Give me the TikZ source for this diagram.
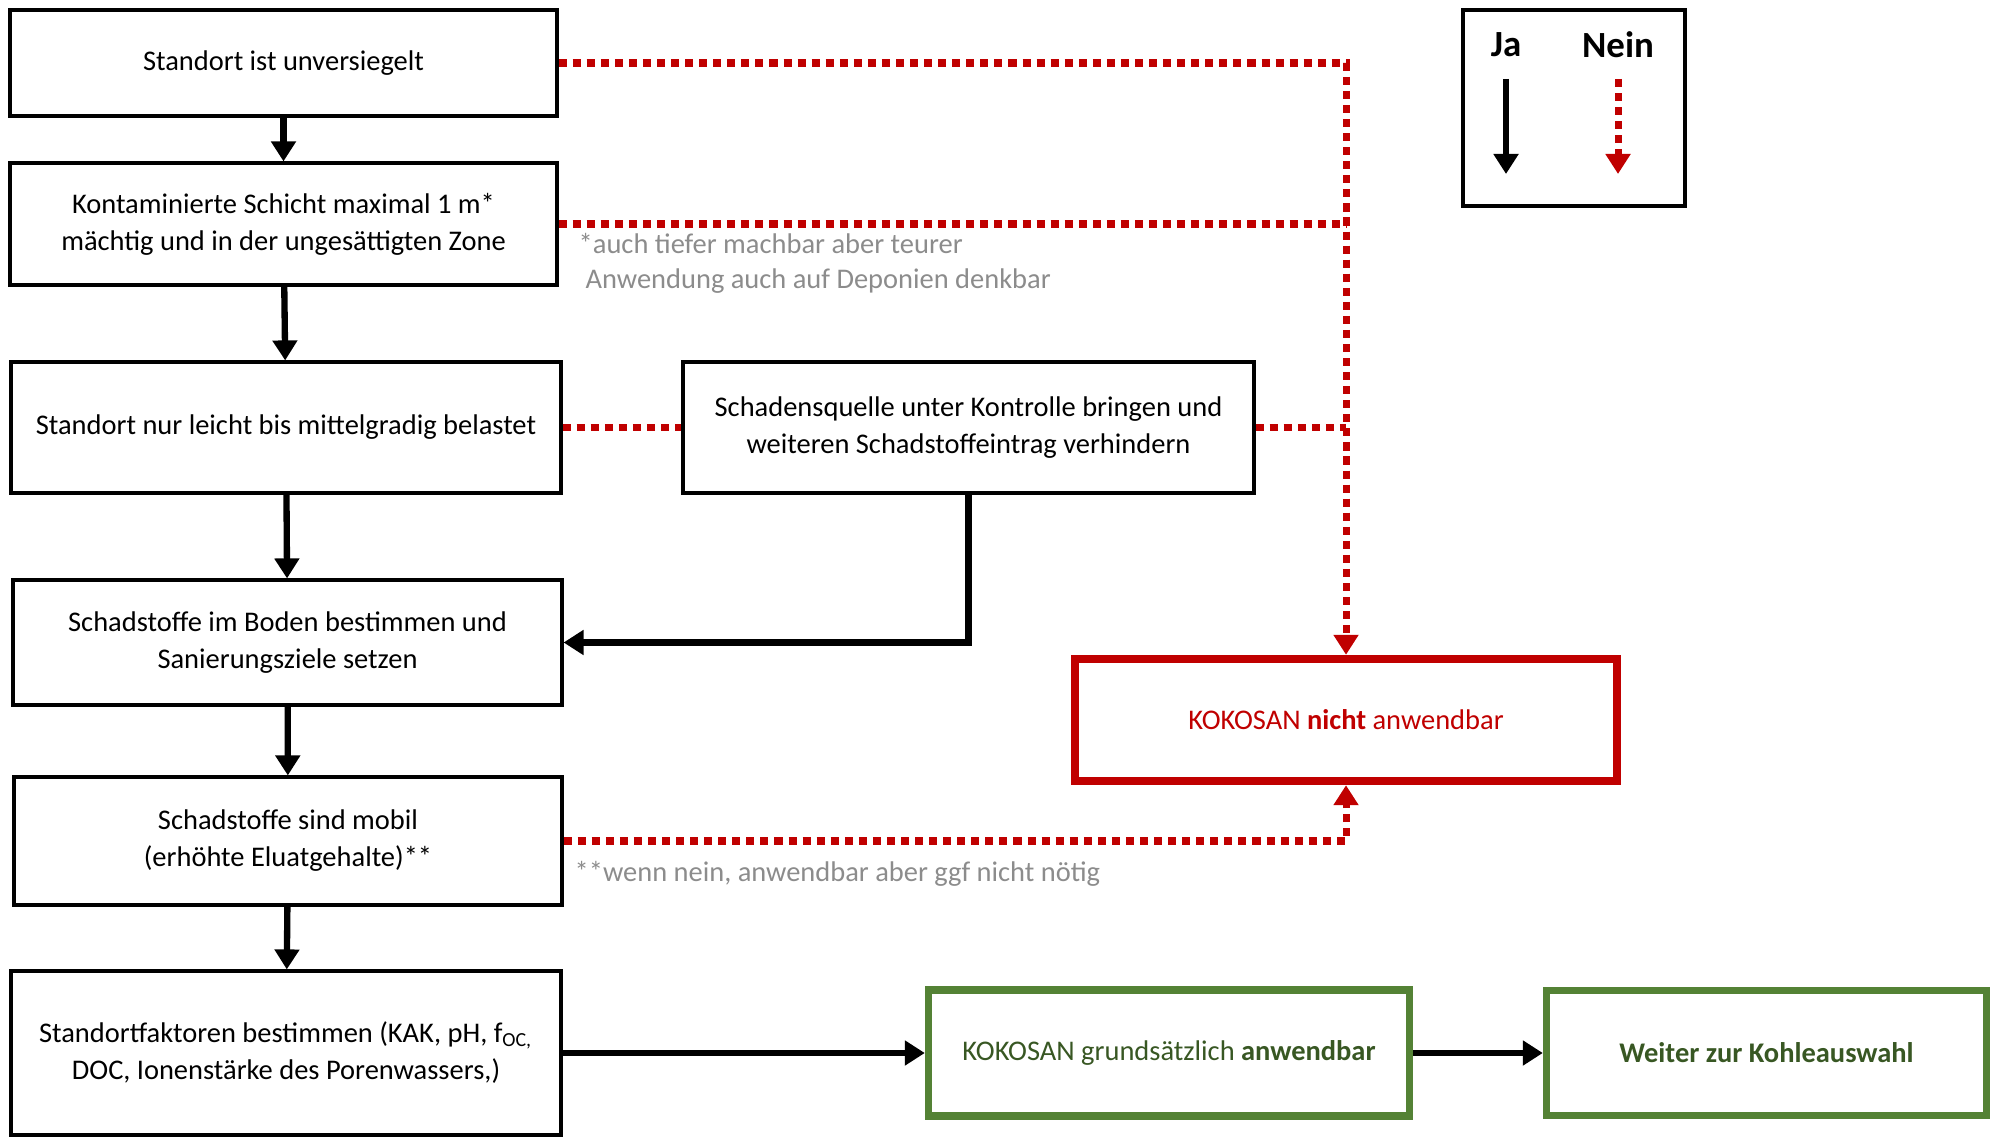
\documentclass[tikz,border=0pt]{standalone}
\usepackage{fontspec}
\setmainfont{Carlito}
\usetikzlibrary{arrows.meta}

\definecolor{neinred}{RGB}{192,0,0}
\definecolor{jagreen}{RGB}{84,130,53}
\definecolor{jatext}{RGB}{56,87,35}
\definecolor{notegray}{RGB}{140,140,140}

\begin{document}
\begin{tikzpicture}[
  font=\fontsize{8.1}{10.5}\selectfont,
  box/.style={draw, line width=0.9pt, align=center, inner sep=0pt},
  nobox/.style={draw=neinred, line width=2.4pt, text=neinred, align=center, inner sep=0pt},
  okbox/.style={draw=jagreen, line width=2.1pt, text=jatext, align=center, inner sep=0pt},
  yes/.style={line width=1.8pt, -{Triangle[width=0.24cm,length=0.2cm]}},
  noline/.style={neinred, line width=2pt, dash pattern=on 2.3pt off 1.7pt},
  no/.style={noline, -{Triangle[width=0.24cm,length=0.2cm]}},
  note/.style={text=notegray, anchor=west, inner sep=0pt}
]

  \useasboundingbox (0,0) rectangle (19.93,11.37);

  % --- Left column ---
  \node[box, minimum width=5.47cm, minimum height=1.06cm] (unversiegelt) at (2.835,10.74) {Standort ist unversiegelt};
  \node[box, minimum width=5.47cm, minimum height=1.22cm] (schicht) at (2.835,9.13) {Kontaminierte Schicht maximal 1 m*\\mächtig und in der ungesättigten Zone};
  \node[box, minimum width=5.50cm, minimum height=1.31cm] (belastet) at (2.86,7.095) {Standort nur leicht bis mittelgradig belastet};
  \node[box, minimum width=5.49cm, minimum height=1.25cm] (boden) at (2.875,4.945) {Schadstoffe im Boden bestimmen und\\Sanierungsziele setzen};
  \node[box, minimum width=5.48cm, minimum height=1.28cm] (mobil) at (2.88,2.96) {Schadstoffe sind mobil\\(erhöhte Eluatgehalte)**};
  \node[box, minimum width=5.50cm, minimum height=1.64cm] (faktoren) at (2.86,0.84) {Standortfaktoren bestimmen (KAK, pH, f\textsubscript{OC,}\\DOC, Ionenstärke des Porenwassers,)};

  % --- Middle and right ---
  \node[box, minimum width=5.71cm, minimum height=1.31cm] (quelle) at (9.685,7.095) {Schadensquelle unter Kontrolle bringen und\\weiteren Schadstoffeintrag verhindern};
  \node[nobox, minimum width=5.42cm, minimum height=1.22cm] (nicht) at (13.46,4.17) {KOKOSAN \textbf{nicht} anwendbar};
  \node[okbox, minimum width=4.81cm, minimum height=1.26cm] (grund) at (11.69,0.84) {KOKOSAN grundsätzlich \textbf{anwendbar}};
  \node[okbox, minimum width=4.40cm, minimum height=1.25cm] (kohle) at (17.665,0.84) {\textbf{Weiter zur Kohleauswahl}};

  % --- Notes ---
  \node[note] (tiefer) at (5.78,8.93) {*auch tiefer machbar aber teurer};
  \node[note] (deponie) at (5.85,8.56) {Anwendung auch auf Deponien denkbar};
  \node[note] (noetig) at (5.74,2.63) {**wenn nein, anwendbar aber ggf nicht nötig};

  % --- Legend ---
  \node[box, minimum width=2.22cm, minimum height=1.96cm] (legende) at (15.74,10.29) {};
  \node[font=\fontsize{10.5}{12}\selectfont\bfseries] (ja) at (15.06,10.925) {Ja};
  \node[font=\fontsize{10.5}{12}\selectfont\bfseries] (nein) at (16.18,10.925) {Nein};
  \coordinate (jaoben) at (15.06,10.58);
  \coordinate (jaunten) at (15.06,9.63);
  \coordinate (neinoben) at (16.18,10.58);
  \coordinate (neinunten) at (16.18,9.63);
  \draw[yes] (jaoben) -- (jaunten);
  \draw[no] (neinoben) -- (neinunten);

  % --- Ja arrows ---
  \draw[yes] (unversiegelt) -- (schicht);
  \draw[yes] (schicht) -- (belastet);
  \draw[yes] (belastet) -- (boden);
  \draw[yes] (boden) -- (mobil);
  \draw[yes] (mobil) -- (faktoren);
  \draw[yes] (quelle.south) |- (boden.east);
  \draw[yes] (faktoren.east) -- (grund.west);
  \draw[yes] (grund.east) -- (kohle.west);

  % --- Nein arrows ---
  \draw[no] (unversiegelt.east) -| (nicht.north);
  \draw[noline] (schicht.east) -- (schicht.east -| nicht.north);
  \draw[noline] (belastet.east) -- (quelle.west);
  \draw[noline] (quelle.east) -- (quelle.east -| nicht.north);
  \draw[no] (mobil.east) -| (nicht.south);

\end{tikzpicture}
\end{document}
